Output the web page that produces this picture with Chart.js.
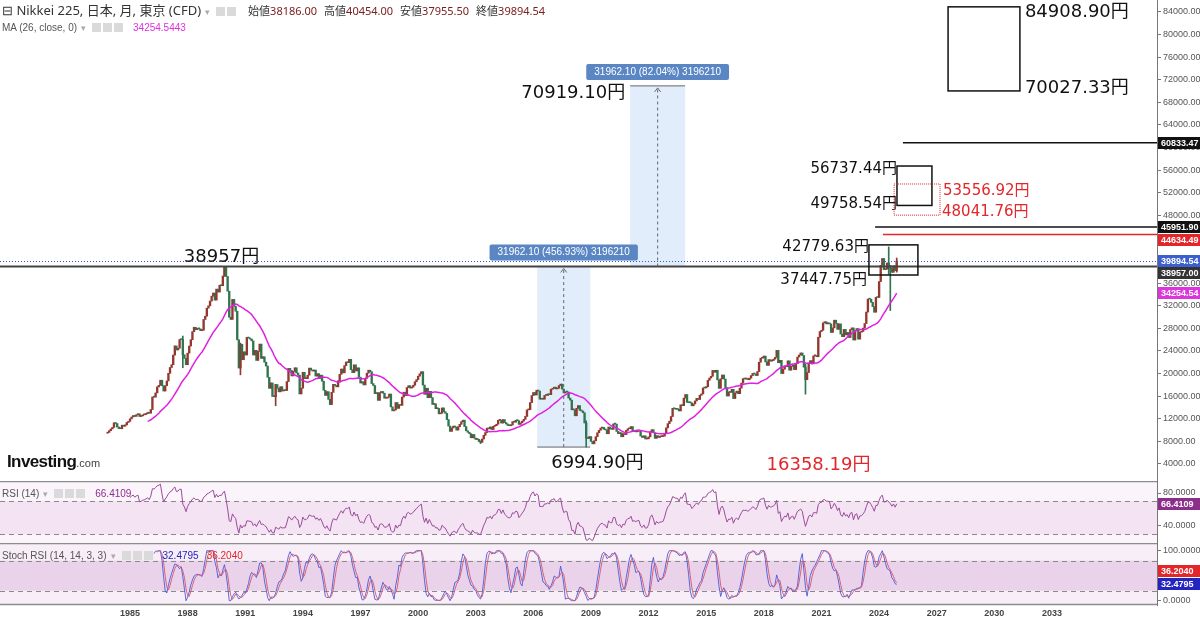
<!DOCTYPE html>
<html>
<head>
<meta charset="utf-8">
<script src="https://cdn.jsdelivr.net/npm/chart.js@4.4.1/dist/chart.umd.min.js"></script>
<style>
  html, body { margin: 0; padding: 0; background: #fff; }
  #wrap { position: relative; width: 1200px; height: 621px; overflow: hidden; font-family: "Liberation Sans", Arial, sans-serif; }
  canvas { position: absolute; left: 0; display: block; }
  #priceCanvas { top: 0; }
  #rsiCanvas { top: 481px; }
  #stochCanvas { top: 543px; }
  .legend { position: absolute; left: 2px; white-space: nowrap; color: #555; font-size: 10px; line-height: 12px; }
  .legend .caret { color: #aaa; font-size: 9px; margin: 0 6px 0 4px; }
  .legend .icons i { display: inline-block; width: 9px; height: 9px; background: #dadada; margin-right: 2px; vertical-align: -1px; }
  .legend .val { margin-left: 8px; }
  #mainLegend { top: 3px; font-size: 13px; color: #333; font-family: "Noto Sans", "Noto Sans CJK JP", sans-serif; line-height: 15px; }
  #mainLegend .ohlc { font-size: 11px; margin-left: 10px; }
  #mainLegend em { font-style: normal; color: #7a2020; margin-right: 7px; }
  #maLegend { top: 22px; }
  #rsiLegend { top: 488px; }
  #stochLegend { top: 550px; }
  #logo { position: absolute; left: 7px; top: 452px; color: #111; white-space: nowrap; }
  #logo b { font: bold 17px "Liberation Sans", Arial, sans-serif; letter-spacing: -0.6px; }
  #logo span { font-size: 11px; color: #444; }
</style>
</head>
<body>
<div id="wrap">
  <canvas id="priceCanvas" width="1200" height="481"></canvas>
  <canvas id="rsiCanvas" width="1200" height="62"></canvas>
  <canvas id="stochCanvas" width="1200" height="78"></canvas>
  <div class="legend" id="mainLegend"></div>
  <div class="legend" id="maLegend"></div>
  <div class="legend" id="rsiLegend"></div>
  <div class="legend" id="stochLegend"></div>
  <div id="logo"><b>Investing</b><span>.com</span></div>
</div>
<script>
// monthly closes, Nov 1983 .. Dec 2024 (rounded)
const startYear = 1983;
const startMonth = 10; // 0-based, November
const firstOpen = 9450;
const closes = [
  9600, 9894,
  10200, 10470, 11290, 11160, 10550, 10270, 10240, 10870, 10680, 10920, 11350, 11543,
  11990, 12320, 12580, 12420, 12720, 12880, 12400, 12520, 12700, 12760, 12900, 13113,
  12990, 13640, 15860, 15830, 16580, 17650, 17910, 18820, 17850, 16910, 17850, 18701,
  20050, 21080, 21570, 23270, 24900, 24180, 24490, 26030, 26010, 23330, 22690, 21564,
  23620, 24880, 25990, 27420, 28200, 27770, 28000, 27920, 27600, 27680, 29580, 30159,
  31580, 31990, 32840, 33700, 34260, 33000, 34950, 34430, 35640, 35550, 37270, 38916,
  37190, 34590, 29980, 29580, 33130, 31940, 31040, 25980, 20984, 25194, 22455, 23849,
  23290, 26410, 26290, 26110, 25790, 23290, 24120, 22330, 23920, 25220, 22690, 22984,
  22020, 21340, 19350, 17390, 18350, 15950, 15910, 18060, 17400, 16770, 17680, 16925,
  17020, 17000, 18590, 20920, 20550, 19590, 20380, 21030, 20100, 19700, 16400, 17417,
  20230, 19110, 19110, 19720, 20970, 20640, 20450, 20630, 19560, 19990, 19140, 19723,
  18650, 17050, 16140, 16800, 15440, 14520, 16680, 18100, 17910, 17650, 18740, 19868,
  20810, 20130, 21410, 22040, 21950, 22530, 20690, 20170, 21550, 20470, 21020, 19361,
  18330, 18560, 18000, 19150, 20070, 20600, 20330, 18230, 17890, 16460, 16630, 15259,
  16630, 16830, 16530, 15640, 15670, 15830, 16380, 14110, 13410, 13560, 14880, 13842,
  14500, 14370, 15840, 16700, 16110, 17530, 17860, 17440, 17600, 17940, 18560, 18934,
  19540, 19960, 20340, 17970, 16330, 17410, 15730, 16860, 15750, 14540, 14650, 13786,
  13840, 12880, 12990, 13930, 13260, 12970, 11860, 10710, 9770, 10370, 10700, 10543,
  9990, 10590, 11020, 11490, 11760, 10620, 9880, 9620, 9380, 8640, 9220, 8579,
  8340, 8360, 7970, 7830, 8420, 9080, 9560, 10340, 10220, 10560, 10100, 10677,
  10780, 11040, 11720, 11760, 11240, 11860, 11330, 11080, 10820, 10770, 10900, 11489,
  11390, 11740, 11670, 11010, 11280, 11580, 11900, 12410, 13570, 13610, 14870, 16111,
  16650, 16210, 17060, 16910, 15470, 15500, 15460, 16140, 16130, 16400, 16270, 17226,
  17380, 17600, 17290, 17400, 17880, 18140, 17250, 16570, 16790, 16740, 15680, 15308,
  13590, 13600, 12530, 13850, 14340, 13480, 13380, 13070, 11260, 8577, 8512, 8860,
  7994, 7568, 8110, 8830, 9520, 9960, 10360, 10490, 10130, 10030, 9350, 10546,
  10200, 10130, 11090, 11060, 9770, 9380, 9540, 8820, 9370, 9200, 9940, 10229,
  10240, 10620, 9760, 9850, 9690, 9820, 9830, 8950, 8700, 8990, 8430, 8455,
  8800, 9720, 10080, 9520, 8540, 9010, 8700, 8840, 8870, 8930, 9450, 10395,
  11140, 11560, 12400, 13860, 13770, 13680, 13670, 13390, 14460, 14330, 15660, 16291,
  14910, 14840, 14830, 14300, 14630, 15160, 15620, 15420, 16170, 16410, 17460, 17451,
  17670, 18800, 19210, 19520, 20560, 20240, 20590, 18890, 17390, 19080, 19750, 19034,
  17520, 16030, 16760, 16670, 17230, 15580, 16570, 16890, 16450, 17430, 18310, 19114,
  19040, 19120, 18910, 19200, 19650, 20030, 19930, 19650, 20360, 22010, 22720, 22765,
  23100, 22070, 21450, 22470, 22200, 22300, 22550, 22870, 24120, 21920, 22350, 20015,
  20770, 21390, 21210, 22260, 20600, 21280, 21520, 20700, 21760, 22930, 23290, 23657,
  23200, 21140, 18920, 20190, 21880, 22290, 21710, 23140, 23190, 22980, 26430, 27444,
  27660, 28970, 29180, 28810, 28860, 28790, 27280, 28090, 29450, 28890, 27820, 28792,
  27000, 26530, 27820, 26850, 27280, 26390, 27800, 28090, 25940, 27590, 27970, 26095,
  27330, 27450, 28040, 28860, 30890, 33190, 33170, 32620, 31860, 30860, 33490, 33464,
  36287, 39166, 40369, 38406, 38488, 39583, 39102, 38648, 37920, 39081, 38208, 39894.54,
];

// months with visible long wicks
const wickMonths = ["1987-10", "1989-12", "1990-10", "1992-08", "2003-04", "2008-10", "2020-03", "2024-07", "2024-08", "2024-12"];
const wickHighs = [26646, 38957, 25400, 18100, 8100, 11650, 21700, 42426, 39100, 40454];
const wickLows = [21036, 37230, 19781, 14309, 7607, 6994.9, 16358.19, 37611, 31156, 37955.5];

const lastOHLCLabels = ["始値", "高値", "安値", "終値"];
const lastOHLC = [38186.0, 40454.0, 37955.5, 39894.54];
const maLast = 34254.5443;
const rsiLast = 66.4109;
const stochKLast = 32.4795;
const stochDLast = 36.204;

const priceTicks = [4000, 8000, 12000, 16000, 20000, 24000, 28000, 32000, 36000, 40000, 44000, 48000, 52000, 56000, 60000, 64000, 68000, 72000, 76000, 80000, 84000];
const yearTicks = [1985, 1988, 1991, 1994, 1997, 2000, 2003, 2006, 2009, 2012, 2015, 2018, 2021, 2024, 2027, 2030, 2033];
const rsiTicks = [40, 80];
const stochTicks = [0, 100];

// drawn objects: horizontal levels, boxes, measure tools
const levelPrices = [60833.47, 45951.9, 44634.49];
const levelStarts = [2025.24, 2023.79, 2024.2];
const boxStart = [2027.59, 2024.93, 2024.78, 2023.47];
const boxEnd = [2031.33, 2026.75, 2027.17, 2026.02];
const boxHigh = [84908.9, 56737.44, 53556.92, 42779.63];
const boxLow = [70027.33, 49758.54, 48041.76, 37447.75];
const measureStart = [2006.2, 2011.04];
const measureEnd = [2008.96, 2013.9];
const measureFrom = [6994.9, 38957];
const measureTo = [38957, 70919.1];
const measurePct = [456.93, 82.04];
const peakPrice = 38957;
const peakTime = 1989.92;
const lowPrice = 6994.9;
const lowTime = 2008.75;
const covidLow = 16358.19;
const covidTime = 2020.17;

const MA_PERIOD = 26;
const RSI_PERIOD = 14;
const STOCH_PERIOD = 14;
const K_SMOOTH = 3;
const D_SMOOTH = 3;

const X_MIN = 1985 - 130 / 19.208;
const X_MAX = 1985 + 1027 / 19.208;
const AXIS_W = 43;
const UP = "#93382f";
const DOWN = "#2f7550";
const FONT = '"Liberation Sans", Arial, sans-serif';
const BIG = '"DejaVu Sans", "Noto Sans CJK JP", sans-serif';

Chart.defaults.font.family = FONT;

const times = closes.map((c, i) => startYear + (startMonth + i) / 12);
const opens = closes.map((c, i) => (i === 0 ? firstOpen : closes[i - 1]));
const monthIndex = (key) => {
  const [y, m] = key.split("-").map(Number);
  return (y - startYear) * 12 + (m - 1) - startMonth;
};

function sma(values, n) {
  return values.map((v, i) => {
    if (i < n - 1) return null;
    const win = values.slice(i - n + 1, i + 1);
    if (win.some((w) => w === null)) return null;
    return win.reduce((a, b) => a + b, 0) / n;
  });
}

function rsi(values, n) {
  const out = values.map(() => null);
  let gain = 0;
  let loss = 0;
  for (let i = 1; i <= n; i++) {
    const d = values[i] - values[i - 1];
    if (d > 0) gain += d;
    else loss -= d;
  }
  gain /= n;
  loss /= n;
  out[n] = 100 - 100 / (1 + gain / loss);
  for (let i = n + 1; i < values.length; i++) {
    const d = values[i] - values[i - 1];
    gain = (gain * (n - 1) + Math.max(d, 0)) / n;
    loss = (loss * (n - 1) + Math.max(-d, 0)) / n;
    out[i] = loss === 0 ? 100 : 100 - 100 / (1 + gain / loss);
  }
  return out;
}

function stochOf(values, n) {
  return values.map((v, i) => {
    if (i < n - 1) return null;
    const win = values.slice(i - n + 1, i + 1);
    if (win.some((w) => w === null)) return null;
    const lo = Math.min(...win);
    const hi = Math.max(...win);
    return hi === lo ? 50 : ((v - lo) / (hi - lo)) * 100;
  });
}

const toPoints = (arr) =>
  arr.map((v, i) => (v === null ? null : { x: times[i], y: v })).filter(Boolean);

const maLine = sma(closes, MA_PERIOD);
const rsiLine = rsi(closes, RSI_PERIOD);
const stochK = sma(stochOf(rsiLine, STOCH_PERIOD), K_SMOOTH);
const stochD = sma(stochK, D_SMOOTH);

const bodyData = closes.map((c, i) => ({ x: times[i], y: [opens[i], c] }));
const bodyColors = closes.map((c, i) => (c >= opens[i] ? UP : DOWN));
const wickData = wickMonths.map((m, i) => ({ x: times[monthIndex(m)], y: [wickLows[i], wickHighs[i]] }));
const wickColors = wickMonths.map((m) => bodyColors[monthIndex(m)]);

// shared axis helpers
function rightAxis(min, max, ticks, digits) {
  return {
    position: "right",
    min,
    max,
    afterBuildTicks: (s) => {
      s.ticks = ticks.map((v) => ({ value: v }));
    },
    afterFit: (s) => {
      s.width = AXIS_W;
      s.paddingTop = 0;
      s.paddingBottom = 0;
    },
    ticks: {
      autoSkip: false,
      padding: 2,
      color: "#555",
      font: { size: 9 },
      callback: (v) => Number(v).toFixed(digits),
    },
    grid: { drawOnChartArea: false, tickLength: 4, color: "#777" },
    border: { color: "#777" },
  };
}

function hiddenX() {
  return {
    type: "linear",
    min: X_MIN,
    max: X_MAX,
    offset: false,
    display: false,
    grid: { offset: false },
  };
}

function drawTag(ctx, x, y, text, bg) {
  ctx.fillStyle = bg;
  ctx.fillRect(x, Math.round(y) - 6, AXIS_W, 12);
  ctx.fillStyle = "#fff";
  ctx.font = "bold 9px " + FONT;
  ctx.textAlign = "left";
  ctx.textBaseline = "middle";
  ctx.fillText(text, x + 3, Math.round(y) + 0.5);
}

function hLine(ctx, x1, x2, y, color, width, dash) {
  ctx.save();
  ctx.strokeStyle = color;
  ctx.lineWidth = width;
  ctx.setLineDash(dash || []);
  ctx.beginPath();
  ctx.moveTo(x1, y);
  ctx.lineTo(x2, y);
  ctx.stroke();
  ctx.restore();
}

const priceOverlay = {
  id: "priceOverlay",
  beforeDatasetsDraw(chart) {
    const { ctx, scales: { x, y } } = chart;
    ctx.save();
    ctx.fillStyle = "rgba(205, 225, 249, 0.6)";
    measureStart.forEach((s, i) => {
      const x1 = x.getPixelForValue(s);
      const x2 = x.getPixelForValue(measureEnd[i]);
      const y1 = y.getPixelForValue(measureTo[i]);
      const y2 = y.getPixelForValue(measureFrom[i]);
      ctx.fillRect(x1, y1, x2 - x1, y2 - y1);
    });
    ctx.restore();
  },
  afterDatasetsDraw(chart) {
    const { ctx, chartArea: a, scales: { x, y } } = chart;
    ctx.save();

    // reference lines across the whole chart
    hLine(ctx, a.left, a.right, y.getPixelForValue(peakPrice), "#444", 2);
    hLine(ctx, a.left, a.right, Math.round(y.getPixelForValue(lastOHLC[3])) + 0.5, "#3557c9", 1, [1, 2]);

    levelPrices.forEach((p, i) => {
      hLine(ctx, x.getPixelForValue(levelStarts[i]), a.right, y.getPixelForValue(p), i === 2 ? "#e3262a" : "#111", 1.5);
    });

    // measure tools
    measureStart.forEach((s, i) => {
      const x1 = x.getPixelForValue(s);
      const x2 = x.getPixelForValue(measureEnd[i]);
      const xc = (x1 + x2) / 2;
      const yTop = y.getPixelForValue(measureTo[i]);
      const yBot = y.getPixelForValue(measureFrom[i]);
      hLine(ctx, x1, x2, i === 0 ? yBot : yTop, "#666", 1);
      ctx.strokeStyle = "#666";
      ctx.lineWidth = 1;
      ctx.setLineDash([3, 3]);
      ctx.beginPath();
      ctx.moveTo(xc, yBot);
      ctx.lineTo(xc, yTop + 2);
      ctx.stroke();
      ctx.setLineDash([]);
      ctx.beginPath();
      ctx.moveTo(xc - 3, yTop + 6);
      ctx.lineTo(xc, yTop + 2);
      ctx.lineTo(xc + 3, yTop + 6);
      ctx.stroke();

      const diff = (measureTo[i] - measureFrom[i]).toFixed(2);
      const text = `${diff} (${measurePct[i].toFixed(2)}%) ${Math.round((measureTo[i] - measureFrom[i]) * 100)}`;
      ctx.font = "10px " + FONT;
      const w = ctx.measureText(text).width + 16;
      ctx.fillStyle = "#5a86c4";
      ctx.beginPath();
      ctx.roundRect(xc - w / 2, yTop - 22, w, 16, 2);
      ctx.fill();
      ctx.fillStyle = "#fff";
      ctx.textAlign = "center";
      ctx.textBaseline = "middle";
      ctx.fillText(text, xc, yTop - 14);
    });

    // rectangles
    boxStart.forEach((s, i) => {
      const x1 = x.getPixelForValue(s);
      const x2 = x.getPixelForValue(boxEnd[i]);
      const y1 = y.getPixelForValue(boxHigh[i]);
      const y2 = y.getPixelForValue(boxLow[i]);
      const red = i === 2;
      ctx.strokeStyle = red ? "#e3262a" : "#111";
      ctx.lineWidth = red ? 1 : 1.5;
      ctx.setLineDash(red ? [1, 1] : []);
      ctx.strokeRect(x1, y1, x2 - x1, y2 - y1);
      ctx.setLineDash([]);

      const size = i === 0 ? 18 : 15;
      ctx.font = `${size}px ${BIG}`;
      ctx.fillStyle = red ? "#e3262a" : "#111";
      ctx.textBaseline = "alphabetic";
      const hiText = boxHigh[i].toFixed(2) + "円";
      const loText = boxLow[i].toFixed(2) + "円";
      if (i === 0) {
        ctx.textAlign = "left";
        ctx.fillText(hiText, x2 + 5, y1 + 10);
        ctx.fillText(loText, x2 + 5, y2 + 2);
      } else if (i === 1) {
        ctx.textAlign = "right";
        ctx.fillText(hiText, x1, y1 + 7);
        ctx.fillText(loText, x1, y2 + 3);
      } else if (i === 2) {
        ctx.textAlign = "left";
        ctx.fillText(hiText, x2 + 3, y1 + 11);
        ctx.fillText(loText, x2 + 2, y2 + 1);
      } else {
        ctx.textAlign = "right";
        ctx.fillText(hiText, x1, y1 + 6);
        ctx.fillText(loText, x1 - 2, y2 + 9);
      }
    });

    // price annotations
    ctx.font = `18px ${BIG}`;
    ctx.textBaseline = "alphabetic";
    ctx.fillStyle = "#111";
    ctx.textAlign = "center";
    ctx.fillText(peakPrice + "円", x.getPixelForValue(peakTime) - 3, y.getPixelForValue(peakPrice) - 4);
    ctx.textAlign = "left";
    ctx.fillText(lowPrice.toFixed(2) + "円", x.getPixelForValue(lowTime) - 35, y.getPixelForValue(lowPrice) + 21);
    ctx.textAlign = "right";
    ctx.fillText(measureTo[1].toFixed(2) + "円", x.getPixelForValue(measureStart[1]) - 5, y.getPixelForValue(measureTo[1]) + 12);
    ctx.fillStyle = "#e3262a";
    ctx.textAlign = "left";
    ctx.fillText(covidLow.toFixed(2) + "円", x.getPixelForValue(covidTime) - 39, 470);

    // axis tags
    const tx = a.right + 1;
    drawTag(ctx, tx, y.getPixelForValue(levelPrices[0]), levelPrices[0].toFixed(2), "#111");
    drawTag(ctx, tx, y.getPixelForValue(levelPrices[1]), levelPrices[1].toFixed(2), "#111");
    drawTag(ctx, tx, y.getPixelForValue(levelPrices[2]) + 6, levelPrices[2].toFixed(2), "#e3262a");
    drawTag(ctx, tx, y.getPixelForValue(lastOHLC[3]), lastOHLC[3].toFixed(2), "#3c5fcf");
    drawTag(ctx, tx, y.getPixelForValue(peakPrice) + 7, peakPrice.toFixed(2), "#333");
    drawTag(ctx, tx, y.getPixelForValue(maLast), maLast.toFixed(2), "#dd35dd");
    ctx.restore();
  },
};

new Chart(document.getElementById("priceCanvas"), {
  type: "line",
  data: {
    datasets: [
      { type: "bar", data: wickData, backgroundColor: wickColors, barThickness: 1, grouped: false, order: 2 },
      { type: "bar", data: bodyData, backgroundColor: bodyColors, barThickness: 1.7, minBarLength: 1, grouped: false, order: 1 },
      { type: "line", data: toPoints(maLine), borderColor: "#e01fe0", borderWidth: 1.5, pointRadius: 0, order: 0 },
    ],
  },
  options: {
    responsive: false,
    animation: false,
    events: [],
    layout: { padding: 0 },
    plugins: { legend: { display: false }, tooltip: { enabled: false } },
    scales: {
      x: hiddenX(),
      y: rightAxis(990, 86120, priceTicks, 2),
    },
  },
  plugins: [priceOverlay],
});

function panelPlugin(lo, hi, outside, inside, tags, withBottom) {
  return {
    id: "panel",
    beforeDatasetsDraw(chart) {
      const { ctx, chartArea: a, scales: { y } } = chart;
      ctx.save();
      ctx.fillStyle = outside;
      ctx.fillRect(a.left, a.top, a.width, a.height);
      const yHi = y.getPixelForValue(hi);
      const yLo = y.getPixelForValue(lo);
      ctx.fillStyle = inside;
      ctx.fillRect(a.left, yHi, a.width, yLo - yHi);
      [yHi, yLo].forEach((yy) => hLine(ctx, a.left, a.right, Math.round(yy) + 0.5, "#8a8a8a", 1, [5, 4]));
      ctx.restore();
    },
    afterDraw(chart) {
      const { ctx, chartArea: a, scales: { y } } = chart;
      ctx.save();
      hLine(ctx, 0, a.right, a.top + 0.5, "#8c8c8c", 1.5);
      if (withBottom) hLine(ctx, 0, a.right, a.bottom - 0.5, "#8c8c8c", 1.5);
      tags.forEach((t) => drawTag(ctx, a.right + 1, y.getPixelForValue(t.value) + (t.dy || 0), t.value.toFixed(4), t.bg));
      ctx.restore();
    },
  };
}

new Chart(document.getElementById("rsiCanvas"), {
  type: "line",
  data: {
    datasets: [
      { data: toPoints(rsiLine), borderColor: "#9a4c9a", borderWidth: 1, pointRadius: 0 },
    ],
  },
  options: {
    responsive: false,
    animation: false,
    events: [],
    layout: { padding: 0 },
    plugins: { legend: { display: false }, tooltip: { enabled: false } },
    scales: {
      x: hiddenX(),
      y: rightAxis(19.39, 94.55, rsiTicks, 4),
    },
  },
  plugins: [panelPlugin(30, 70, "#fbf4fb", "#f3e3f3", [{ value: rsiLast, bg: "#8b2f8b" }], false)],
});

const stochX = {
  type: "linear",
  min: X_MIN,
  max: X_MAX,
  offset: false,
  afterBuildTicks: (s) => {
    s.ticks = yearTicks.map((v) => ({ value: v }));
  },
  afterFit: (s) => {
    s.height = 16;
    s.paddingLeft = 0;
    s.paddingRight = 0;
  },
  ticks: {
    autoSkip: false,
    maxRotation: 0,
    padding: 3,
    color: "#444",
    font: { size: 9, weight: "bold" },
    callback: (v) => String(v),
  },
  grid: { display: false, drawTicks: false, tickLength: 0, offset: false },
  border: { display: false },
};

new Chart(document.getElementById("stochCanvas"), {
  type: "line",
  data: {
    datasets: [
      { data: toPoints(stochD), borderColor: "rgba(214, 84, 110, 0.9)", borderWidth: 1, pointRadius: 0 },
      { data: toPoints(stochK), borderColor: "rgba(64, 84, 214, 0.85)", borderWidth: 1, pointRadius: 0 },
    ],
  },
  options: {
    responsive: false,
    animation: false,
    events: [],
    layout: { padding: 0 },
    plugins: { legend: { display: false }, tooltip: { enabled: false } },
    scales: {
      x: stochX,
      y: rightAxis(-8.6, 115.4, stochTicks, 4),
    },
  },
  plugins: [
    panelPlugin(20, 80, "#f7eef7", "#ead3ea", [
      { value: stochDLast, bg: "#e3262a", dy: -12 },
      { value: stochKLast, bg: "#2424c0" },
    ], true),
  ],
});

// text legends
const icons = (n) => `<span class="icons">${"<i></i>".repeat(n)}</span>`;
document.getElementById("mainLegend").innerHTML =
  `<span>⊟ Nikkei 225, 日本, 月, 東京 (CFD)</span><span class="caret">▾</span>${icons(2)}<span class="ohlc">` +
  lastOHLCLabels.map((l, i) => `${l}<em>${lastOHLC[i].toFixed(2)}</em>`).join("") +
  `</span>`;
document.getElementById("maLegend").innerHTML =
  `<span>MA (${MA_PERIOD}, close, 0)</span><span class="caret">▾</span>${icons(3)}<span class="val" style="color:#e030e0">${maLast.toFixed(4)}</span>`;
document.getElementById("rsiLegend").innerHTML =
  `<span>RSI (${RSI_PERIOD})</span><span class="caret">▾</span>${icons(3)}<span class="val" style="color:#8b2f8b">${rsiLast.toFixed(4)}</span>`;
document.getElementById("stochLegend").innerHTML =
  `<span>Stoch RSI (${RSI_PERIOD}, ${STOCH_PERIOD}, ${K_SMOOTH}, ${D_SMOOTH})</span><span class="caret">▾</span>${icons(3)}` +
  `<span class="val" style="color:#2424c0">${stochKLast.toFixed(4)}</span><span class="val" style="color:#e3262a">${stochDLast.toFixed(4)}</span>`;
</script>
</body>
</html>
